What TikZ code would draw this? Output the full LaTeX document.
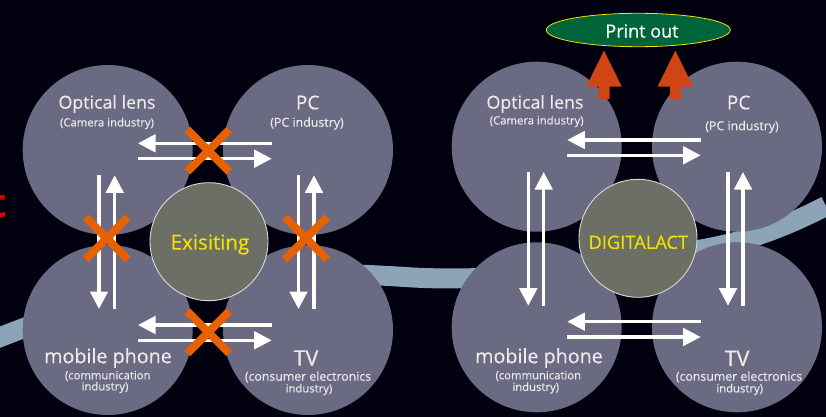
\documentclass[tikz,border=0pt]{standalone}
\usepackage{fontspec}
\setmainfont{Open Sans}
\newfontfamily\heavyf[FakeBold=0.45]{Open Sans}
\newfontfamily\semif[FakeBold=0.25]{Open Sans}
\usetikzlibrary{arrows.meta,shapes.geometric}
\definecolor{bgc}{HTML}{00000F}
\definecolor{disc}{HTML}{6A6A82}
\definecolor{hub}{HTML}{6B6F65}
\definecolor{band}{HTML}{8CA3B8}
\definecolor{crossc}{HTML}{E86100}
\definecolor{redarrow}{HTML}{D14514}
\definecolor{printg}{HTML}{00643A}
\definecolor{yel}{HTML}{F5E000}
\tikzset{
  disc/.style={circle,fill=disc,draw=none,minimum size=170pt,inner sep=0pt},
  hub/.style={circle,fill=hub,draw=white!85!black,line width=0.9pt,minimum size=118pt,inner sep=0pt},
  flow/.style={draw=white,line width=3.2pt,-{Triangle[length=17.5pt,width=17.5pt]}},
  crossx/.style={draw=crossc,line width=8pt},
  lbl/.style={text=white!92!black,inner sep=0pt},
  big/.style={lbl,font=\heavyf\fontsize{17.8}{20}\selectfont},
  huge/.style={lbl,font=\heavyf\fontsize{19.7}{22}\selectfont},
  wide/.style={lbl,font=\heavyf\fontsize{21.5}{23}\selectfont},
  pcname/.style={lbl,font=\heavyf\fontsize{19}{21}\selectfont},
  small/.style={lbl,font=\semif\fontsize{11.3}{13}\selectfont},
  smallw/.style={lbl,font=\semif\fontsize{12.3}{14}\selectfont},
  smallp/.style={lbl,font=\semif\fontsize{12.4}{14}\selectfont},
  hubtext/.style={text=yel,inner sep=0pt},
  uparrow/.style={fill=redarrow,draw=none},
}
\begin{document}
\begin{tikzpicture}[x=1pt,y=-1pt]
\path[use as bounding box,fill=bgc] (0,0) rectangle (826,417);
% cut-off red letter
\begin{scope}
\clip (0,0) rectangle (826,417);
\node[text=red!85!black,font=\fontsize{40}{42}\selectfont\bfseries,anchor=base east,inner sep=0pt] (redt) at (7,217) {t};
\end{scope}
% band
\draw[band,line width=20pt] (-10,341) .. controls (60,314) and (120,290) .. (200,280)
  .. controls (270,272) and (330,272) .. (413,277.5)
  .. controls (480,281) and (560,275) .. (640,260)
  .. controls (700,248) and (740,250) .. (826,206);
% left group
\node[disc] (ol) at (107.7,150) {};
\node[disc] (pl) at (308,150) {};
\node[disc] (ml) at (107.7,330) {};
\node[disc] (tl) at (308,330) {};
\coordinate (a1) at (271.7,143.3); \coordinate (a2) at (138,143.3);
\coordinate (a3) at (138,158.7);   \coordinate (a4) at (271.7,158.7);
\coordinate (a5) at (271.7,325);   \coordinate (a6) at (138,325);
\coordinate (a7) at (138,340.3);   \coordinate (a8) at (271.7,340.3);
\coordinate (b1) at (99,175.3);    \coordinate (b2) at (99,309);
\coordinate (b3) at (114.7,309);   \coordinate (b4) at (114.7,175.3);
\coordinate (b5) at (298.5,175.3); \coordinate (b6) at (298.5,309);
\coordinate (b7) at (314,309);     \coordinate (b8) at (314,175.3);
\foreach \s/\e in {a1/a2,a3/a4,a5/a6,a7/a8,b1/b2,b3/b4,b5/b6,b7/b8} \draw[flow] (\s) -- (\e);
\foreach \c/\cx/\cy in {xa/208.3/150.7,xb/106.7/238.3,xc/306/238.3,xd/208.3/332.3}{
  \coordinate (\c) at (\cx,\cy);
  \draw[crossx] ([shift={(-21,-21)}]\c) -- ([shift={(21,21)}]\c);
  \draw[crossx] ([shift={(-21,21)}]\c) -- ([shift={(21,-21)}]\c);
}
\node[hub] (hl) at (209,241.7) {};
\node[hubtext,font=\heavyf\fontsize{20.5}{22}\selectfont] (hlt) at (210,244.5) {Exisiting};
% right group
\node[disc] (or) at (536.7,146.7) {};
\node[disc] (pr) at (737,146.7) {};
\node[disc] (mr) at (536.7,327.3) {};
\node[disc] (tr) at (737,327.3) {};
\coordinate (c1) at (700.7,140);   \coordinate (c2) at (567.3,140);
\coordinate (c3) at (567.3,155.3); \coordinate (c4) at (700.7,155.3);
\coordinate (c5) at (700.7,321.7); \coordinate (c6) at (567.3,321.7);
\coordinate (c7) at (567.3,337);   \coordinate (c8) at (700.7,337);
\coordinate (d1) at (528.3,172);   \coordinate (d2) at (528.3,305.7);
\coordinate (d3) at (543.7,305.7); \coordinate (d4) at (543.7,172);
\coordinate (d5) at (728,172);     \coordinate (d6) at (728,305.7);
\coordinate (d7) at (743,305.7);   \coordinate (d8) at (743,172);
\foreach \s/\e in {c1/c2,c3/c4,c5/c6,c7/c8,d1/d2,d3/d4,d5/d6,d7/d8} \draw[flow] (\s) -- (\e);
\node[hub] (hr) at (638,238.3) {};
\node[hubtext,font=\heavyf\fontsize{18.3}{20}\selectfont] (hrt) at (638.3,242.3) {DIGITALACT};
% red arrows
\foreach \tip in {604,675.3}{
  \fill[uparrow] (\tip,50.7) -- (\tip+17.8,86.7) -- (\tip+5.5,86.7) -- (\tip+5.5,99)
    -- (\tip-5.5,99) -- (\tip-5.5,86.7) -- (\tip-17.8,86.7) -- cycle;
}
\node[ellipse,draw=yel,fill=printg,line width=0.8pt,minimum width=184pt,minimum height=33.4pt,inner sep=0pt] (po) at (638.3,30) {};
\node[text=white,font=\heavyf\fontsize{18}{20}\selectfont,inner sep=0pt] (pot) at (642,31) {Print out};
% labels left
\node[big] (t1) at (107,104) {Optical lens};
\node[small] (t2) at (107,123.5) {(Camera industry)};
\node[pcname] (t3) at (307.7,102.5) {PC};
\node[smallp] (t4) at (307,123.5) {(PC industry)};
\node[huge] (t5) at (108,358) {mobile phone};
\node[small] (t6) at (107.7,376) {(communication};
\node[small] (t7) at (105,387.5) {industry)};
\node[wide] (t8) at (306,358) {TV};
\node[smallw] (t9) at (308,377) {(consumer electronics};
\node[small] (t10) at (309,389.5) {industry)};
% labels right
\node[big] (u1) at (535,104) {Optical lens};
\node[small] (u2) at (536.7,121.5) {(Camera industry)};
\node[pcname] (u3) at (738.7,102.5) {PC};
\node[smallp] (u4) at (742,127) {(PC industry)};
\node[huge] (u5) at (539,358) {mobile phone};
\node[small] (u6) at (538.3,376) {(communication};
\node[small] (u7) at (535.7,388) {industry)};
\node[wide] (u8) at (737,358.3) {TV};
\node[smallw] (u9) at (739,377) {(consumer electronics};
\node[small] (u10) at (739.7,389.5) {industry)};
\end{tikzpicture}
\end{document}
